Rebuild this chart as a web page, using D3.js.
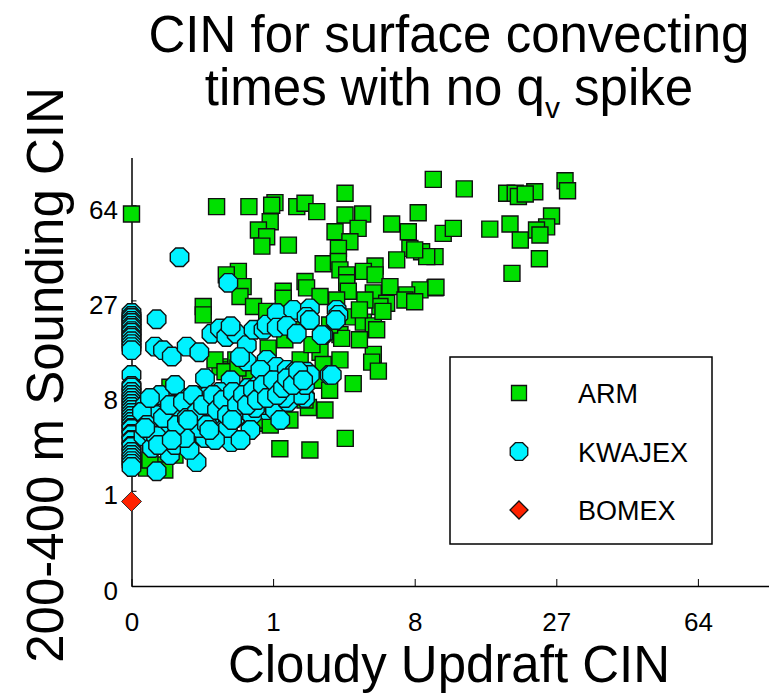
<!DOCTYPE html>
<html>
<head>
<meta charset="utf-8">
<script src="https://cdn.jsdelivr.net/npm/d3@7"></script>
<style>
  body { margin: 0; background: #fff; }
  text { font-family: "Liberation Sans", Arial, sans-serif; fill: #000; }
</style>
</head>
<body>
<div id="chart"></div>
<script>
// values (CIN, cube-root axes)
const armPoints = [
  [0,59.7],[0.217,63.3],[0.57,63.3],[1.04,65.3],[0.97,64],[1.59,63.3],[1.84,65],[2.24,60.8],[3.43,70.2],[9.68,77.9],
  [0.94,56],[0.72,52.3],[0.87,49.4],[0.78,45.5],[1.36,45.9],[3.43,59.2],[4.35,59.7],[4.1,53],[2.97,51.5],[3.67,47.3],
  [3.12,44.6],[6.2,55],[8.3,60.3],[7.47,51.5],[10.67,50.8],[7.6,44.6],[8.6,43.3],[9.85,41.4],[9.06,41.4],[6.57,40.2],
  [2.48,38.8],[3.12,39.6],[3.19,36.6],[3.51,34.9],[3.51,32.3],[3.59,29.7],[5.09,38],[4.39,36.1],[5.09,34.9],[0.43,36.1],
  [0.30,34.9],[0.49,31.1],[0.45,28.1],[6.08,31.1],[4.98,29.2],[9.85,30.7],[8.46,30.1],[7.34,28.6],[5.85,26.2],[5.4,25.3],
  [7.2,27.1],[0.13,25.3],[0.13,23.1],[1.23,29.7],[1.23,27.6],[1.84,32.7],[1.89,30.7],[2.36,28.1],[0.64,25.3],[0.87,24],
  [3.04,27.1],[3.84,22.6],[4.39,21.3],[4.98,20.4],[5.19,19.5],[3.19,18.4],[12.98,72.6],[11.74,53],[16.2,52.7],[19.1,55],
  [20.7,48],[18.6,70.2],[19.9,70.2],[20.4,68.5],[23.1,71],[21.5,69.8],[28.7,77.1],[29.2,71.6],[26.1,58.7],[25.2,53.7],
  [23.4,52.3],[24,50.1],[23.9,40.6],[19.4,35.4],[8,44],[9.94,30.9],
  [3.27,17.6],[2.36,14.8],[3.19,13.4],[2.48,12.6],[4.98,14.4],[4.88,13],[5.3,11.5],[3.84,9.6],[2.55,6.32],[1.95,6.6],
  [1.84,7.46],[1.15,6.9],[0.64,5.5],[0.75,5.0],[0.59,5.0],[3.44,3.73],[1.15,3.0],[2.0,2.92],[0.069,3.08],[0.0012,1.9],
  [0.020,9.1],[0.244,12.2],[0.343,11.7],[0.40,13.4],[0.59,10.4],[0.75,8.7],[1.40,10.9],[1.69,13.4],[0.9,15.6],[1.27,17.3],
  [1.54,19.5],[2.07,16.3],[2.74,20.6],[4.17,17.3],[2.28,10.1],[2.74,8.7],[1.40,5.3],[0.244,4.4],[0.029,2.6],[0.008,2.05],
  [0.11,8.1],[4.48,27.1],[8.0,26.6],[4.17,24.4],[5.6,24],
  [0.205,13.4],[0.288,11.4],[0.425,12.0],[0.557,5.79],[0.783,5.30],[0.94,4.84],[1.54,9.41],[1.73,8.07],[0.013,1.81],[0.0022,2.32]
];

const kwajexPoints = [
  // stacked on the y axis
  [0,23.6],[0,22.8],[0,22.3],[0,21.6],[0,21.1],[0,20.4],[0,19.9],[0,19.2],[0,18.8],[0,18.1],[0,17.7],[0,17.0],
  [0,16.4],[0,15.8],[0,15.2],[0,10.9],[0,9.28],[0,9.07],[0,8.46],[0,8.07],[0,7.70],[0,7.34],[0,6.99],[0,6.65],
  [0,6.32],[0,6.0],[0,5.70],[0,5.40],[0,5.11],[0,4.84],[0,4.57],[0,4.48],[0,4.07],[0,3.99],[0,3.61],[0,3.54],
  [0,3.18],[0,3.11],[0,2.79],[0,2.61],[0,2.43],[0,2.26],[0,2.11],[0,1.95],
  [0.039,41.2],[0.32,32.3],[0.0056,22],[0.0046,15.9],[0.011,15.2],[0.023,14.0],[0.059,15.9],[0.11,14.8],[0.18,18.6],[0.244,19.8],
  [0.30,17.9],[0.41,18.6],[0.343,20.3],[0.54,16.2],[0.64,19.5],[0.81,19.5],[0.87,20.7],[1.08,23.6],[1.49,24.4],[2.0,24.8],
  [1.89,22.6],[3.04,24.4],[3.12,23.1],[3.0,21.8],[1.08,20.0],[1.32,20.4],[1.59,18.6],[2.48,18.3],[0.54,13.1],[0.45,13.9],
  [0.87,13.4],[1.08,12.2],[1.32,11.7],[1.54,11.4],[1.89,11.4],[2.74,10.9],[1.84,7.8],[0.35,3.45],[0.097,2.2],[0.0056,1.75],
  [0.020,2.6],[0.039,3.6],[0.015,4.4],[0.0037,3.4],[0.0006,3.9],[0.87,6.3],[2.0,21.8],[2.42,18.3],[2.83,10.9],[1.84,7.7],
  // dense band
  [0.0009,6.87],[0.0016,5.30],[0.0022,4.23],[0.003,3.05],[0.0066,6.32],[0.008,4.84],[0.0099,3.61],[0.013,7.46],[0.017,5.79],[0.023,4.40],
  [0.029,3.25],[0.035,6.87],[0.045,5.30],[0.054,7.70],[0.064,4.23],[0.078,6.32],[0.090,4.84],[0.104,7.46],[0.123,5.79],[0.14,3.76],
  [0.158,8.07],[0.184,6.54],[0.205,5.11],[0.228,7.46],[0.261,6.11],[0.288,8.46],[0.316,4.57],[0.358,6.87],[0.39,5.50],[0.425,8.07],
  [0.475,6.32],[0.515,7.46],[0.557,9.0],[0.616,5.79],[0.663,7.70],[0.713,9.41],[0.783,6.87],[0.838,8.46],[0.896,10.1],[0.977,7.70],
  [1.04,6.32],[1.11,9.0],[1.20,8.07],[1.27,9.84],[1.35,7.22],[1.46,8.73],[1.57,10.4],[1.69,8.07],[1.84,9.41],[2.0,10.9],
  [0.205,3.61],[0.069,2.92],[0.593,4.40],[0.343,10.1],[0.754,11.7],[0.14,10.4],[1.16,5.30],[0.457,3.61],[0.008,8.07],[0.029,9.41],
  [0.0046,5.79],[0.013,4.23],[0.039,6.11],[0.090,6.87],[0.166,5.50],[0.288,6.87],[0.457,7.46],[0.663,6.54],[0.94,8.73],[1.27,7.70],
  [0.11,4.57],[0.054,3.76],[0.244,8.46],[0.593,8.07],
  [0.0004,6.11],[0.0013,4.84],[0.0022,7.70],[0.0052,3.91],[0.011,5.50],[0.020,6.87],[0.033,4.84],[0.048,7.22],[0.060,5.50],[0.082,8.07],
  [0.099,6.11],[0.129,6.87],[0.151,4.84],[0.191,8.07],[0.220,6.32],[0.270,7.46],[0.307,5.79],[0.368,8.46],[0.414,6.87],[0.488,8.07],
  [0.543,6.87],[0.632,8.73],[0.696,7.46],[0.80,9.41],[0.876,7.70],[1.0,10.1],[1.086,8.07],[1.225,9.0],[1.324,10.4],[1.48,9.41],
  [1.63,11.5],[1.78,10.1],[0.0009,4.57],[0.0066,3.25],[0.023,3.61],[0.064,5.30],[0.166,4.40],[0.358,5.30]
];

const bomexPoints = [[0, 0.7]];

const seriesNames = ["ARM", "KWAJEX", "BOMEX"];
const seriesColors = ["#00e000", "#00f2ff", "#ff2200"];
const tickValues = [0, 1, 8, 27, 64];

const width = 769, height = 700;
const svg = d3.select("#chart").append("svg")
  .attr("width", width)
  .attr("height", height);

// cube-root axes, 0 .. 4.5^3
const x = d3.scalePow().exponent(1 / 3).domain([0, 91.125]).range([131.5, 768.7]);
const y = d3.scalePow().exponent(1 / 3).domain([0, 91.125]).range([586, 157.6]);

function squarePath(s) {
  const h = s / 2;
  return `M${-h},${-h}H${h}V${h}H${-h}Z`;
}
function octagonPath(r) {
  const p = d3.path();
  for (let k = 0; k < 8; k++) {
    const a = Math.PI / 8 + k * Math.PI / 4;
    if (k === 0) p.moveTo(r * Math.cos(a), r * Math.sin(a));
    else p.lineTo(r * Math.cos(a), r * Math.sin(a));
  }
  p.closePath();
  return p.toString();
}
function diamondPath(r) {
  return `M0,${-r}L${r},0L0,${r}L${-r},0Z`;
}

// axes
const xAxis = svg.append("g")
  .attr("transform", `translate(0,${y(0)})`)
  .call(d3.axisBottom(x).tickValues(tickValues).tickFormat(d3.format("d"))
    .tickSize(-7).tickSizeOuter(0).tickPadding(27));
const yAxis = svg.append("g")
  .attr("transform", `translate(${x(0)},0)`)
  .call(d3.axisLeft(y).tickValues(tickValues).tickFormat(d3.format("d"))
    .tickSize(-5).tickSizeOuter(0).tickPadding(13.5));

[xAxis, yAxis].forEach(function (g) {
  g.select(".domain").attr("stroke", "#000").attr("stroke-width", 1.5);
  g.selectAll(".tick line").attr("stroke", "#000").attr("stroke-width", 1);
  g.selectAll(".tick text")
    .style("font-family", "'Liberation Sans', Arial, sans-serif")
    .style("font-size", "26px")
    .attr("fill", "#000");
});
yAxis.selectAll(".tick text").attr("dy", "0.5em");

// markers
const plot = svg.append("g");
plot.selectAll(".arm")
  .data(armPoints)
  .join("path")
  .attr("class", "arm")
  .attr("transform", d => `translate(${x(d[0])},${y(d[1])})`)
  .attr("d", squarePath(16))
  .attr("fill", seriesColors[0])
  .attr("stroke", "#111")
  .attr("stroke-width", 1.4);

plot.selectAll(".kwajex")
  .data(kwajexPoints)
  .join("path")
  .attr("class", "kwajex")
  .attr("transform", d => `translate(${x(d[0])},${y(d[1])})`)
  .attr("d", octagonPath(10))
  .attr("fill", seriesColors[1])
  .attr("stroke", "#111")
  .attr("stroke-width", 1.4);

plot.selectAll(".bomex")
  .data(bomexPoints)
  .join("path")
  .attr("class", "bomex")
  .attr("transform", d => `translate(${x(d[0])},${y(d[1])})`)
  .attr("d", diamondPath(10))
  .attr("fill", seriesColors[2])
  .attr("stroke", "#333")
  .attr("stroke-width", 1);

// legend
const legend = svg.append("g");
legend.append("rect")
  .attr("x", 450).attr("y", 357)
  .attr("width", 262).attr("height", 187)
  .attr("fill", "#fff")
  .attr("stroke", "#000")
  .attr("stroke-width", 1.5);

const shapes = [squarePath(15), octagonPath(9.5), diamondPath(9)];
const legendG = legend.selectAll(".legend")
  .data(seriesNames)
  .join("g")
  .attr("class", "legend")
  .attr("transform", (d, i) => `translate(519,${393 + i * 58.5})`);

legendG.append("path")
  .attr("d", (d, i) => shapes[i])
  .attr("fill", (d, i) => seriesColors[i])
  .attr("stroke", "#111")
  .attr("stroke-width", 1.3);

legendG.append("text")
  .attr("x", 59)
  .attr("y", 10)
  .style("font-size", "27px")
  .text(d => d);

// titles
const title = svg.append("g").style("font-size", "51px");
title.append("text")
  .attr("x", 449).attr("y", 52)
  .attr("text-anchor", "middle")
  .text("CIN for surface convecting");
const line2 = title.append("text")
  .attr("x", 449).attr("y", 105)
  .attr("text-anchor", "middle");
line2.append("tspan").text("times with no q");
line2.append("tspan").attr("dy", 13).style("font-size", "30px").text("v");
line2.append("tspan").attr("dy", -13).text(" spike");

svg.append("text")
  .attr("transform", "translate(63,375) rotate(-90)")
  .attr("text-anchor", "middle")
  .style("font-size", "51px")
  .text("200-400 m Sounding CIN");

svg.append("text")
  .attr("x", 449).attr("y", 682)
  .attr("text-anchor", "middle")
  .style("font-size", "51px")
  .text("Cloudy Updraft CIN");
</script>
</body>
</html>
